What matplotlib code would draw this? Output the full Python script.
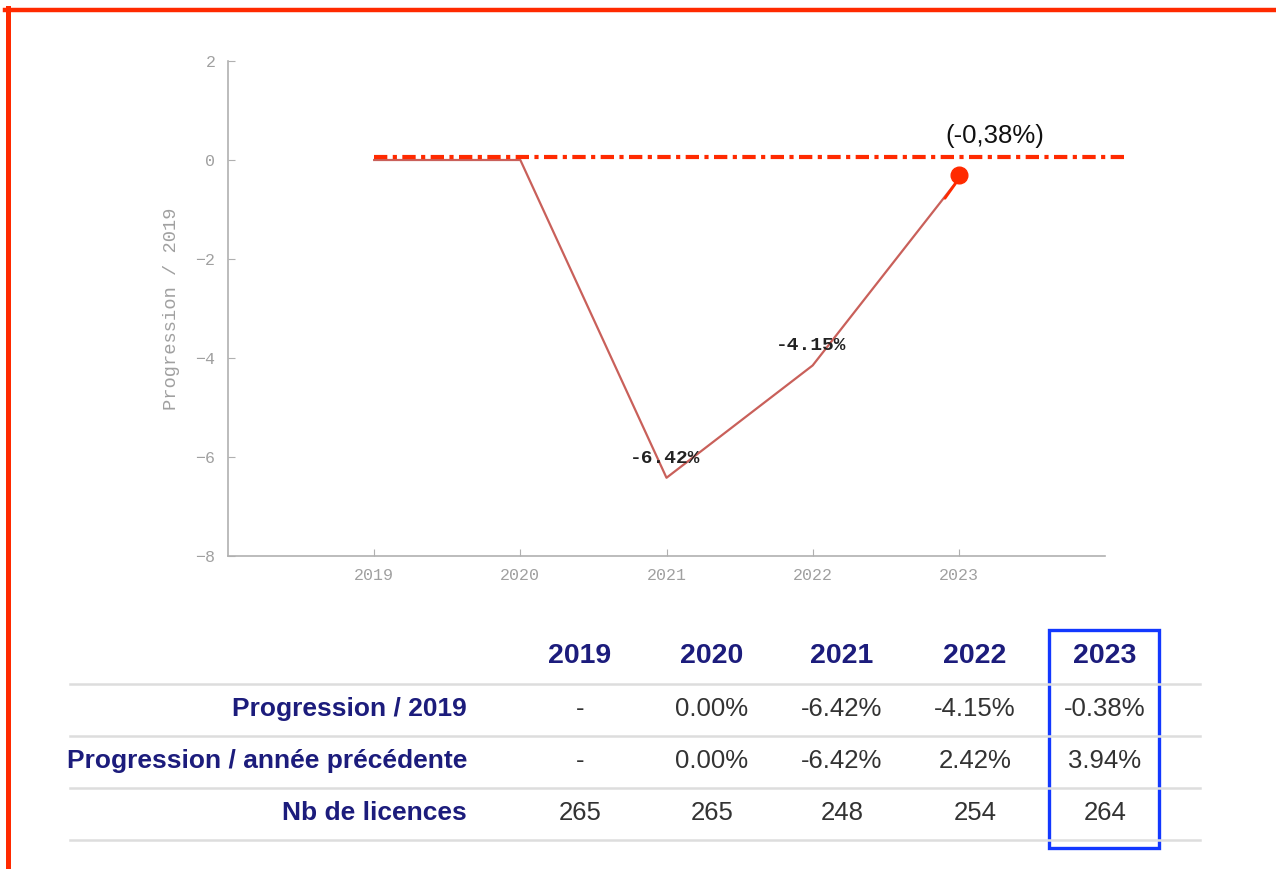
import matplotlib
matplotlib.use("Agg")
import matplotlib.pyplot as plt
from matplotlib.lines import Line2D
from matplotlib.patches import Rectangle

# data
years = [2019, 2020, 2021, 2022, 2023]
progression = [0.0, 0.0, -6.42, -4.15, -0.38]
point_labels = ["", "", "-6.42%", "-4.15%", ""]
prog_2019 = ["-", "0.00%", "-6.42%", "-4.15%", "-0.38%"]
prog_prev = ["-", "0.00%", "-6.42%", "2.42%", "3.94%"]
licences = ["265", "265", "248", "254", "264"]
row_names = ["Progression / 2019", "Progression / année précédente", "Nb de licences"]
yticks = [2, 0, -2, -4, -6, -8]
ref_level = 0.06
ref_span = [2019, 2024.16]
highlight = "(-0,38%)"

W, H = 1276, 869
fig = plt.figure(figsize=(W / 100, H / 100), dpi=100)
fig.patch.set_facecolor("white")


def px(x, y):
    # pixel (from top-left) -> figure fraction
    return x / W, 1 - y / H


red = "#ff2a00"
navy = "#1c1c7c"
grey = "#a0a0a0"
mono = "Liberation Mono"

# chart
ax = fig.add_axes([228 / W, 1 - 556 / H, 877 / W, 495 / H])
ax.plot(years, progression, color="#c9605a", lw=1.6, zorder=2)
ax.set_xlim(2018, 2024)
ax.set_ylim(-8, 2)
ax.set_xticks(years)
ax.set_yticks(yticks)
for s in ["top", "right"]:
    ax.spines[s].set_visible(False)
for s in ["left", "bottom"]:
    ax.spines[s].set_color("#b0b0b0")
    ax.spines[s].set_linewidth(1.2)
ax.tick_params(direction="in", length=5, color="#b0b0b0", labelcolor=grey,
               labelsize=12)
ax.tick_params(axis="x", pad=9)
ax.tick_params(axis="y", pad=9)
for lab in ax.get_xticklabels() + ax.get_yticklabels():
    lab.set_family(mono)
ax.set_ylabel("Progression / 2019", family=mono, fontsize=13.5, color=grey)
ax.yaxis.set_label_coords(-0.055, 0.5)

for x, y, t in zip(years, progression, point_labels):
    if t:
        ax.annotate(t, (x, y), xytext=(-1, 14), textcoords="offset points",
                    ha="center", va="center", family=mono,
                    weight="bold", fontsize=14, color="#222222")

# red overlay annotation
ax.plot(ref_span, [ref_level, ref_level], color=red, lw=3,
        dashes=(3.2, 1.3, 1, 1.3), clip_on=False, zorder=4)
ax.annotate("", xy=(years[-1], progression[-1]), xytext=(-10, -14),
            textcoords="offset points",
            arrowprops=dict(arrowstyle="-", color=red, lw=2, shrinkA=0, shrinkB=0))
ax.plot(years[-1], progression[-1] + 0.08, "o", color=red, ms=12, zorder=5,
        clip_on=False)
ax.annotate(highlight, (years[-1], progression[-1]), xytext=(26, 31),
            textcoords="offset points", ha="center", va="center",
            family="Liberation Sans", fontsize=18.5, color="#111111")

# table below
col_x = [580, 712, 842, 975, 1105]
row_y = [709, 761, 813]
tfont = "Liberation Sans"
for cx, yr in zip(col_x, years):
    fig.text(*px(cx, 656), str(yr), ha="center", va="center", family=tfont,
             weight="bold", fontsize=20.5, color=navy)
for ry, name, vals in zip(row_y, row_names, [prog_2019, prog_prev, licences]):
    fig.text(*px(467, ry), name, ha="right", va="center", family=tfont,
             weight="bold", fontsize=19, color=navy)
    for cx, v in zip(col_x, vals):
        fig.text(*px(cx, ry), v, ha="center", va="center", family=tfont,
                 fontsize=18.5, color="#333333")
for ly in [684, 736, 788, 840]:
    x0, y0 = px(70, ly)
    x1, _ = px(1200, ly)
    fig.add_artist(Line2D([x0, x1], [y0, y0], color="#dddddd", lw=1.8))

bx, by = px(1049, 848)
fig.add_artist(Rectangle((bx, by), 110 / W, 218 / H, fill=False,
                         edgecolor="#1238ff", lw=2.4))

# red frame (top and left edges)
fig.add_artist(Line2D([5 / W, 1], [1 - 10 / H, 1 - 10 / H], color=red, lw=3.2))
fig.add_artist(Line2D([7.5 / W, 7.5 / W], [0, 1 - 8 / H], color=red, lw=3.6))

fig.savefig("out.png", dpi=100)
